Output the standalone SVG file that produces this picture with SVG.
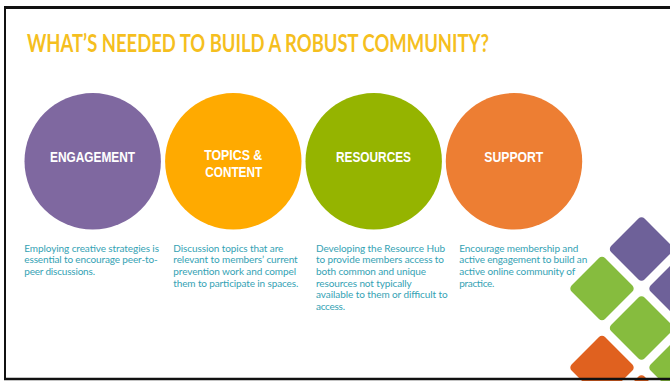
<svg xmlns="http://www.w3.org/2000/svg" width="670" height="381" viewBox="0 0 670 381">
<style>
.title{font-family:Lato,"Liberation Sans",sans-serif;font-weight:bold;font-size:24px;fill:#F5BF1F}
.lbl{font-family:"Liberation Sans Narrow","Liberation Sans",Arial,sans-serif;font-weight:bold;font-size:14.5px;fill:#ffffff;text-anchor:middle}
.desc{font-family:Lato,"Liberation Sans",sans-serif;font-size:10px;fill:#34A2B4}
.tile{stroke:#ffffff;stroke-width:1.5}
</style>
<defs>
<rect id="tile" x="-24.4" y="-24.4" width="48.8" height="48.8" rx="5" ry="5" transform="rotate(45)"/>
</defs>
<rect x="0" y="0" width="670" height="381" fill="#ffffff"/>
<g id="decor">
<use href="#tile" x="641.5" y="249" fill="#6E6199" class="tile"/>
<use href="#tile" x="681" y="288.5" fill="#6E6199" class="tile"/>
<use href="#tile" x="602" y="288.5" fill="#86BC3E" class="tile"/>
<use href="#tile" x="641.5" y="328" fill="#86BC3E" class="tile"/>
<use href="#tile" x="602" y="367.5" fill="#E0611F" class="tile"/>
<use href="#tile" x="681" y="367.5" fill="#86BC3E" class="tile"/>
<use href="#tile" x="641.5" y="407" fill="#E0611F" class="tile"/>
</g>
<g id="frame" fill="none" stroke="#111111">
<line x1="5" y1="7.5" x2="670" y2="7.5" stroke-width="3"/>
<line x1="5" y1="6" x2="5" y2="380" stroke-width="2"/>
<line x1="4" y1="379" x2="670" y2="379" stroke-width="2.5"/>
</g>
<text class="title" x="27" y="52" textLength="462" lengthAdjust="spacingAndGlyphs">WHAT’S NEEDED TO BUILD A ROBUST COMMUNITY?</text>
<g id="engagement">
<circle cx="92.7" cy="161.3" r="68.2" fill="#7F68A0"/>
<text class="lbl" x="92.5" y="161.7" textLength="85" lengthAdjust="spacingAndGlyphs">ENGAGEMENT</text>
<text class="desc" x="24.3" y="251.5" textLength="134.7">Employing creative strategies is</text>
<text class="desc" x="24.3" y="263.2" textLength="133.4">essential to encourage peer-to-</text>
<text class="desc" x="24.3" y="274.9" textLength="70.7">peer discussions.</text>
</g>
<g id="topics">
<circle cx="233.3" cy="161.3" r="68.2" fill="#FFAA00"/>
<text class="lbl" x="233.2" y="160" textLength="58" lengthAdjust="spacingAndGlyphs">TOPICS &amp;</text>
<text class="lbl" x="233.7" y="176.7" textLength="57" lengthAdjust="spacingAndGlyphs">CONTENT</text>
<text class="desc" x="173.3" y="251.5" textLength="110">Discussion topics that are</text>
<text class="desc" x="173.3" y="263.2" textLength="124.4">relevant to members’ current</text>
<text class="desc" x="173.3" y="274.9" textLength="122.7">prevention work and compel</text>
<text class="desc" x="173.3" y="286.6" textLength="125">them to participate in spaces.</text>
</g>
<g id="resources">
<circle cx="373.7" cy="161.3" r="68.2" fill="#95B400"/>
<text class="lbl" x="373.5" y="162.3" textLength="75" lengthAdjust="spacingAndGlyphs">RESOURCES</text>
<text class="desc" x="316" y="251.5" textLength="129">Developing the Resource Hub</text>
<text class="desc" x="316" y="263.2" textLength="128">to provide members access to</text>
<text class="desc" x="316" y="274.9" textLength="110">both common and unique</text>
<text class="desc" x="316" y="286.6" textLength="95.7">resources not typically</text>
<text class="desc" x="316" y="298.3" textLength="131.7">available to them or difficult to</text>
<text class="desc" x="316" y="310" textLength="29">access.</text>
</g>
<g id="support">
<circle cx="514" cy="161.3" r="68.2" fill="#ED7E33"/>
<text class="lbl" x="513.8" y="162" textLength="59" lengthAdjust="spacingAndGlyphs">SUPPORT</text>
<text class="desc" x="459.3" y="251.5" textLength="119">Encourage membership and</text>
<text class="desc" x="459.3" y="263.2" textLength="128">active engagement to build an</text>
<text class="desc" x="459.3" y="274.9" textLength="116">active online community of</text>
<text class="desc" x="459.3" y="286.6" textLength="35">practice.</text>
</g>
<g id="connectors"/>
</svg>
